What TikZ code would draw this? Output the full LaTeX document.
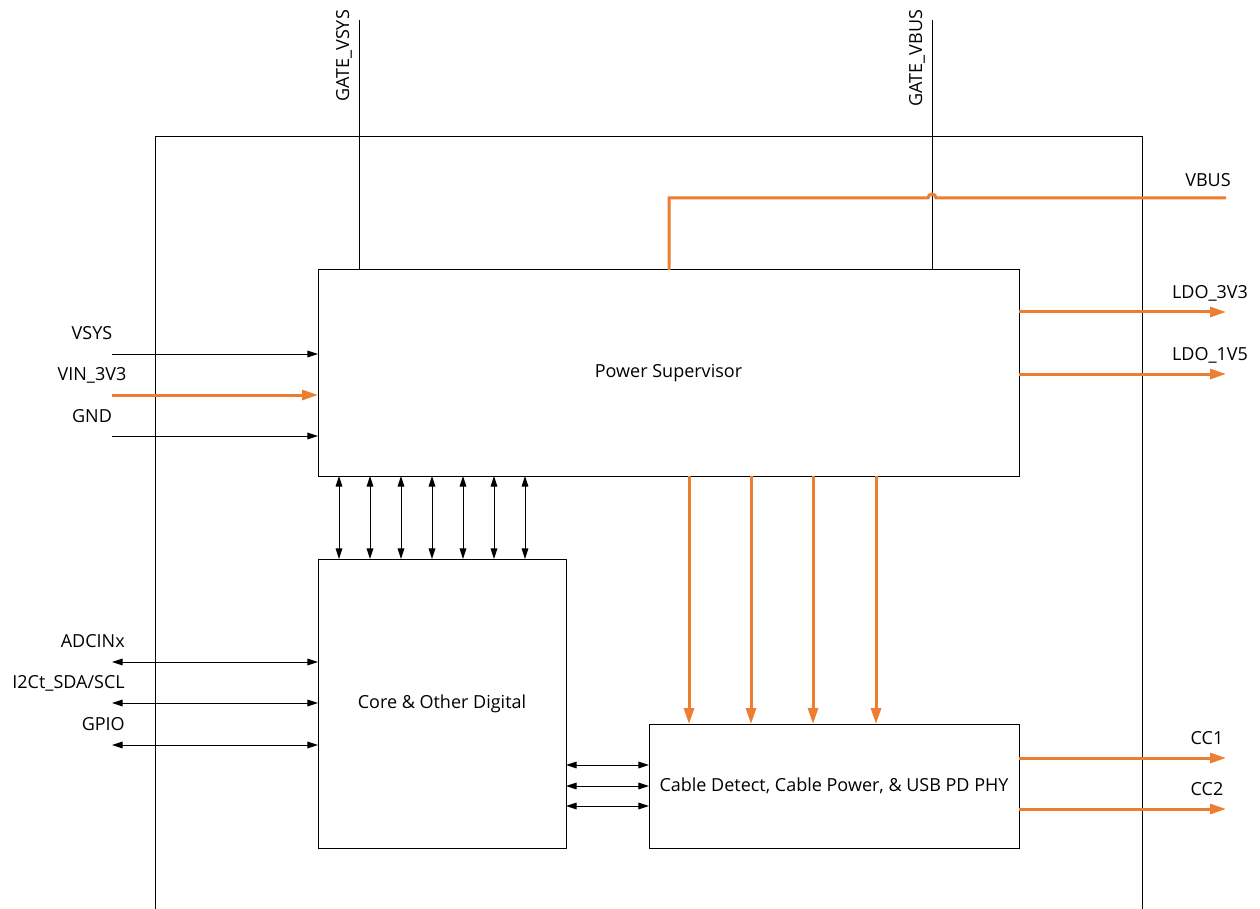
\documentclass[tikz,border=0pt]{standalone}
\usepackage{fontspec}
\setmainfont{Open Sans}
\usetikzlibrary{arrows.meta}
\definecolor{pwrorange}{RGB}{237,125,49}
\tikzset{
  wire/.style={line width=0.75pt},
  blk/.style={draw,wire,inner sep=0pt,outer sep=0pt},
  sig/.style={wire,-{Triangle[length=8pt,width=5pt]}},
  bidir/.style={wire,{Triangle[length=8pt,width=5pt]}-{Triangle[length=8pt,width=5pt]}},
  pwr/.style={line width=2.25pt,pwrorange},
  pwrarrow/.style={pwr,-{Triangle[length=12pt,width=7.5pt]}},
  lbl/.style={inner sep=0pt}
}
\begin{document}
\begin{tikzpicture}[x=0.75pt,y=-0.75pt,font=\fontsize{13.5}{16}\selectfont]
    \useasboundingbox (0,0) rectangle (1260,909);
    % frame
        \draw[wire] (155,909) -- (155,137) -- (1142,137) -- (1142,909);
    % blocks
        \node[blk,minimum width=525.75pt,minimum height=154.5pt] (ps) at (668.5,373) {Power Supervisor};
        \node[blk,minimum width=186pt,minimum height=216.75pt] (core) at (442,703.5) {Core \& Other Digital};
        \node[blk,minimum width=277.5pt,minimum height=93pt] (cable) at (834,786) {Cable Detect, Cable Power, \& USB PD PHY};
    % gate lines
        \coordinate (gvsys) at (359,20);
        \coordinate (gvbus) at (932,20);
        \draw[wire] (gvsys) -- (gvsys |- ps.north);
        \draw[wire] (gvbus) -- (gvbus |- ps.north);
        \node[lbl,rotate=90] (gvsyslbl) at (344,56) {GATE\_VSYS};
        \node[lbl,rotate=90] (gvbuslbl) at (917,58) {GATE\_VBUS};
    % vbus
        \coordinate (vbuscorner) at (669,198);
        \coordinate (vbus) at (1226,198);
        \draw[pwr] (vbuscorner |- ps.north) -- (vbuscorner) -- ([xshift=-3pt]gvbus |- vbuscorner)
            arc[start angle=180,end angle=360,radius=4] -- (vbus);
        \node[lbl] (vbuslbl) at (1208,180) {VBUS};
    % inputs left
        \coordinate (vsys) at (112,354);
        \coordinate (vin) at (112,395);
        \coordinate (gnd) at (112,436);
        \draw[sig] (vsys) -- (vsys -| ps.west);
        \draw[pwrarrow] (vin) -- (vin -| ps.west);
        \draw[sig] (gnd) -- (gnd -| ps.west);
        \node[lbl] (vsyslbl) at (92,333) {VSYS};
        \node[lbl] (vinlbl) at (92,375) {VIN\_3V3};
        \node[lbl] (gndlbl) at (92,416) {GND};
    % ldo outputs
        \coordinate (ldoa) at (1226,312);
        \coordinate (ldob) at (1226,374);
        \draw[pwrarrow] (ldoa -| ps.east) -- (ldoa);
        \draw[pwrarrow] (ldob -| ps.east) -- (ldob);
        \node[lbl] (ldoalbl) at (1210,293) {LDO\_3V3};
        \node[lbl] (ldoblbl) at (1210,355) {LDO\_1V5};
    % supervisor <-> core
        \foreach \x in {339,370,...,525}
            \draw[bidir] (ps.south -| \x,0) -- (core.north -| \x,0);
    % supervisor -> cable
        \foreach \x in {689,751,813,876}
            \draw[pwrarrow] (ps.south -| \x,0) -- (cable.north -| \x,0);
    % digital io
        \coordinate (adc) at (112,662);
        \coordinate (iic) at (112,703);
        \coordinate (gpio) at (112,745);
        \draw[bidir] (adc) -- (adc -| core.west);
        \draw[bidir] (iic) -- (iic -| core.west);
        \draw[bidir] (gpio) -- (gpio -| core.west);
        \node[lbl,anchor=east] (adclbl) at (125,641) {ADCINx};
        \node[lbl,anchor=east] (iiclbl) at (125,683) {I2Ct\_SDA/SCL};
        \node[lbl,anchor=east] (gpiolbl) at (125,724) {GPIO};
    % core <-> cable
        \foreach \y in {765,786,806}
            \draw[bidir] (core.east |- 0,\y) -- (cable.west |- 0,\y);
    % cc outputs
        \coordinate (cca) at (1226,758);
        \coordinate (ccb) at (1226,809);
        \draw[pwrarrow] (cca -| cable.east) -- (cca);
        \draw[pwrarrow] (ccb -| cable.east) -- (ccb);
        \node[lbl] (ccalbl) at (1207,738) {CC1};
        \node[lbl] (ccblbl) at (1207,789) {CC2};
\end{tikzpicture}
\end{document}
